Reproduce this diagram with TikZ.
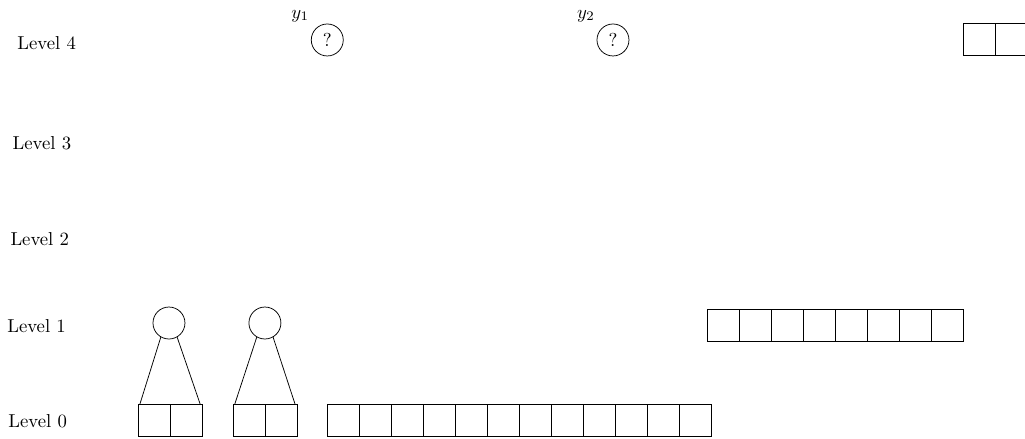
\documentclass[tikz,border=0pt]{standalone}
\usepackage{amsmath,amssymb}
\usepackage{tikz}
\usetikzlibrary{positioning, calc}

\tikzset{
  cell/.style={draw, minimum size=6mm, inner sep=0pt, outer sep=0pt},
  knot/.style={draw, circle, minimum size=6mm, inner sep=0pt},
  levellabel/.style={anchor=west, inner sep=0pt}
}

\begin{document}
\begin{tikzpicture}
    \useasboundingbox (0,0) rectangle (19.23,8.22);

    % level labels
    \node[levellabel] (lv4) at (0.32,7.41) {Level 4};
    \node[levellabel] (lv3) at (0.23,5.53) {Level 3};
    \node[levellabel] (lv2) at (0.19,3.73) {Level 2};
    \node[levellabel] (lv1) at (0.13,2.10) {Level 1};
    \node[levellabel] (lv0) at (0.15,0.32) {Level 0};

    % level 0 cells
    \foreach \i in {0,1} {
      \node[cell] (pa\i) at ({2.89+0.6*\i},0.34) {};
      \node[cell] (pb\i) at ({4.67+0.6*\i},0.34) {};
    }
    \foreach \i in {0,...,11}
      \node[cell] (row\i) at ({6.45+0.6*\i},0.34) {};

    % level 1
    \node[knot] (ta) at (3.17,2.16) {};
    \node[knot] (tb) at (4.97,2.16) {};
    \draw (ta.-120) -- ([xshift=1pt]pa0.north west);
    \draw (ta.-60) -- ([xshift=-1pt]pa1.north east);
    \draw (tb.-120) -- ([xshift=1pt]pb0.north west);
    \draw (tb.-60) -- ([xshift=-1pt]pb1.north east);
    \foreach \i in {0,...,7}
      \node[cell] (mid\i) at ({13.58+0.6*\i},2.11) {};

    % level 4
    \node[knot, label=above left:$y_1$] (qa) at (6.14,7.47) {?};
    \node[knot, label=above left:$y_2$] (qb) at (11.50,7.47) {?};
    \foreach \i in {0,1}
      \node[cell] (top\i) at ({18.37+0.6*\i},7.48) {};
  \end{tikzpicture}
\end{document}
